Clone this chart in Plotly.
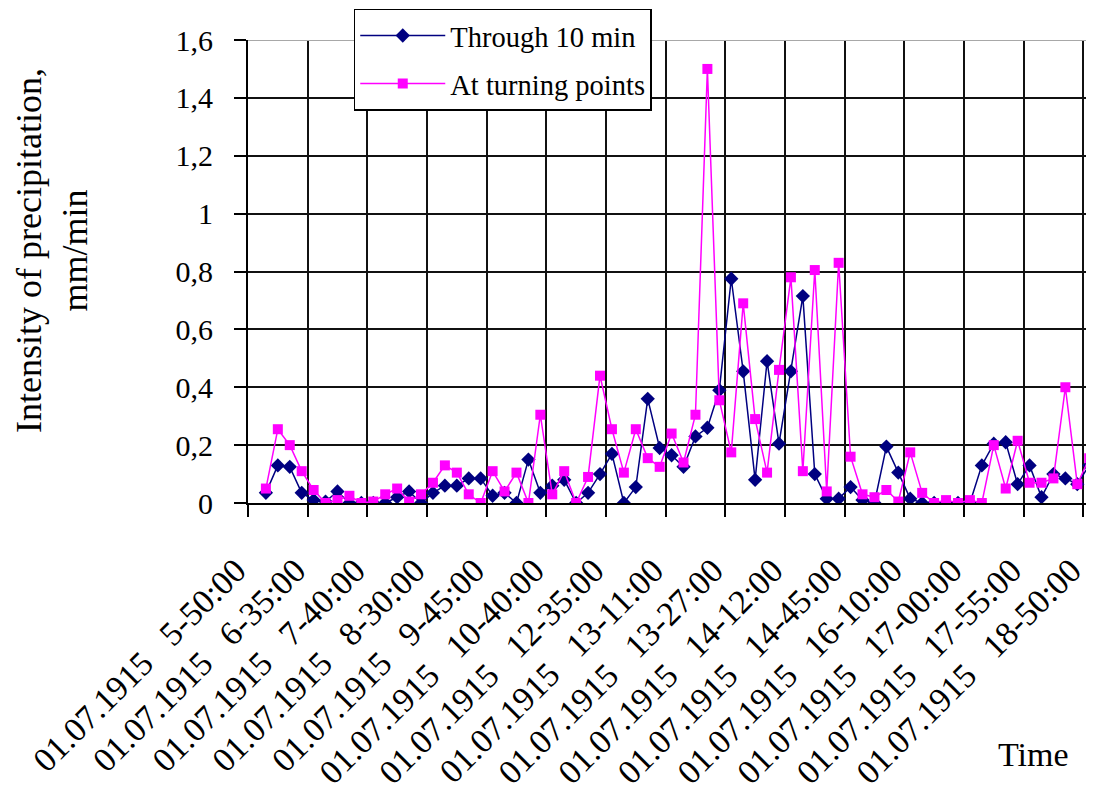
import plotly.graph_objects as go

# ---- data ----
SEP = "\u00a0\u00a0\u00a0"
PAD = "\u00a0\u00a0"   # trailing pad so each rotated label ends just left of its gridline
tick_labels = ["01.07.1915" + SEP + t + PAD for t in
               ["5-50:00", "6-35:00", "7-40:00", "8-30:00", "9-45:00", "10-40:00", "12-35:00",
                "13-11:00", "13-27:00", "14-12:00", "14-45:00", "16-10:00", "17-00:00",
                "17-55:00", "18-50:00"]]

through_10_min = [0.035, 0.13, 0.125, 0.035, 0.01, 0.005, 0.04, 0.0, 0.0, 0.0,
                  0.0, 0.02, 0.04, 0.0, 0.035, 0.06, 0.06, 0.085, 0.085, 0.025,
                  0.035, 0.0, 0.15, 0.035, 0.06, 0.08, 0.0, 0.035, 0.1, 0.17,
                  0.0, 0.055, 0.36, 0.19, 0.165, 0.125, 0.23, 0.26, 0.39, 0.775,
                  0.455, 0.08, 0.49, 0.205, 0.455, 0.715, 0.1, 0.015, 0.015, 0.055,
                  0.01, 0.0, 0.195, 0.105, 0.015, 0.0, 0.0, 0.0, 0.0, 0.0,
                  0.13, 0.205, 0.21, 0.065, 0.13, 0.02, 0.1, 0.085, 0.065, 0.13]

at_turning_points = [0.05, 0.255, 0.2, 0.11, 0.045, 0.0, 0.01, 0.025, 0.0, 0.005,
                     0.03, 0.05, 0.005, 0.03, 0.07, 0.13, 0.105, 0.03, 0.0, 0.11,
                     0.04, 0.105, 0.0, 0.305, 0.03, 0.11, 0.0, 0.09, 0.44, 0.255,
                     0.105, 0.255, 0.155, 0.125, 0.24, 0.14, 0.305, 1.5, 0.355, 0.175,
                     0.69, 0.29, 0.105, 0.46, 0.78, 0.11, 0.805, 0.04, 0.83, 0.16,
                     0.03, 0.02, 0.045, 0.005, 0.175, 0.035, 0.0, 0.01, 0.0, 0.01,
                     0.0, 0.2, 0.05, 0.215, 0.07, 0.07, 0.085, 0.4, 0.065, 0.155]

label_step = 5       # one label / gridline every 5 categories
first_category = 1   # category 0 of the original axis holds no value

# category centres on a numeric axis (gridlines at category boundaries)
x_pos = [first_category + i + 0.5 for i in range(len(through_10_min))]
tick_pos = [i * label_step for i in range(len(tick_labels))]

FONT = "Liberation Serif"

fig = go.Figure()
fig.add_trace(go.Scatter(
    x=x_pos, y=through_10_min, name="Through 10 min", mode="lines+markers",
    legendgroup="a",
    line=dict(color="#000080", width=1.5),
    marker=dict(symbol="diamond", size=11, color="#000080")))
fig.add_trace(go.Scatter(
    x=x_pos, y=at_turning_points, name="At turning points", mode="lines+markers",
    legendgroup="b",
    line=dict(color="#FF00FF", width=1.5),
    marker=dict(symbol="square", size=10, color="#FF00FF")))

fig.update_layout(
    width=1094, height=792,
    margin=dict(l=240, r=8, t=32, b=297, autoexpand=False),
    paper_bgcolor="white", plot_bgcolor="white",
    separators=", ",
    font=dict(family=FONT, color="black", size=30),
    showlegend=True,
    legend=dict(x=0.125, y=1.067, xanchor="left", yanchor="top",
                bgcolor="white", bordercolor="black", borderwidth=1.5,
                tracegroupgap=8, itemwidth=85,
                font=dict(family=FONT, size=28.5, color="black")),
    xaxis=dict(range=[0, 70.9], tickmode="array", tickvals=tick_pos, ticktext=tick_labels,
               tickangle=-45, ticks="outside", ticklen=12, tickwidth=2, tickcolor="black",
               showgrid=True, gridcolor="#111", gridwidth=2,
               showline=True, linecolor="black", linewidth=2,
               zeroline=False, ticklabelstandoff=8, automargin=False,
               ticklabeloverflow="allow",
               tickfont=dict(family=FONT, size=34)),
    yaxis=dict(range=[0, 1.6], tickmode="array", tickvals=[0, 0.2, 0.4, 0.6, 0.8, 1.0, 1.2, 1.4, 1.6],
               ticks="outside", ticklen=12, tickwidth=2, tickcolor="black",
               showgrid=True, gridcolor="#111", gridwidth=2,
               showline=True, linecolor="black", linewidth=2,
               zeroline=False, ticklabelstandoff=15, automargin=False,
               tickfont=dict(family=FONT, size=30)),
    shapes=[dict(type="line", xref="paper", yref="y", x0=0, x1=1, y0=1.6, y1=1.6,
                 line=dict(color="#a8a8a8", width=2), layer="above")],
    annotations=[
        dict(text="Intensity of precipitation,<br>mm/min", xref="paper", yref="paper",
             x=-0.232, y=0.546, xanchor="center", yanchor="middle", textangle=-90,
             showarrow=False, font=dict(family=FONT, size=36, color="black")),
        dict(text="Time", xref="paper", yref="paper", x=0.928, y=-0.544,
             xanchor="center", yanchor="middle", showarrow=False,
             font=dict(family=FONT, size=34, color="black")),
    ],
)

fig.write_html("out.html")
